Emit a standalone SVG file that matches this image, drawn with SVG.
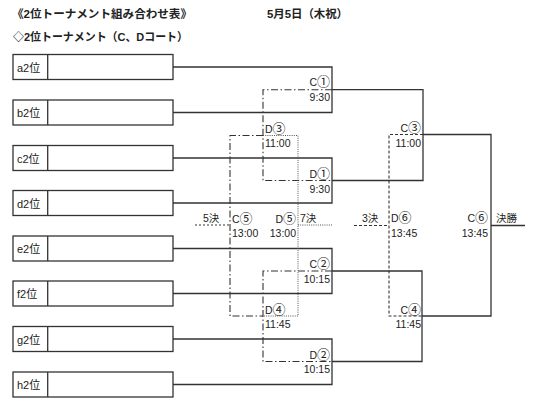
<svg xmlns="http://www.w3.org/2000/svg" width="549" height="409" viewBox="0 0 549 409">
<style>
text{font-family:"Liberation Sans","Noto Sans CJK JP",sans-serif;fill:#222;font-size:10.5px}
.c{font-family:"Noto Sans CJK JP",sans-serif;font-size:13px}
.t{font-weight:bold;font-size:11.5px}
.n{font-size:11px}
.r{text-anchor:end}
.box{fill:#fff;stroke:#333;stroke-width:1.3}
.s{fill:none;stroke:#333;stroke-width:1.3}
.dd{fill:none;stroke:#333;stroke-width:1.1;stroke-dasharray:7 2.5 1.5 2.5}
.dt{fill:none;stroke:#555;stroke-width:1;stroke-dasharray:1 1.2}
.ds{fill:none;stroke:#333;stroke-width:1.1;stroke-dasharray:3 2}
</style>
<rect width="549" height="409" fill="#fff"/>
<text class="t" x="12" y="18" textLength="180" lengthAdjust="spacingAndGlyphs">《2位トーナメント組み合わせ表》</text>
<text class="t" x="267" y="18" textLength="81" lengthAdjust="spacingAndGlyphs">5月5日（木祝）</text>
<text class="t" x="13" y="41" textLength="175" lengthAdjust="spacingAndGlyphs">◇2位トーナメント（C、Dコート）</text>

<g id="teams">
<g id="a"><rect class="box" x="13" y="54.5" width="160" height="25"/><line class="s" x1="47.7" y1="54.5" x2="47.7" y2="79.5"/><text class="n" x="17" y="71.5">a2位</text></g>
<g id="b"><rect class="box" x="13" y="100" width="160" height="25"/><line class="s" x1="47.7" y1="100" x2="47.7" y2="125"/><text class="n" x="17" y="117">b2位</text></g>
<g id="c"><rect class="box" x="13" y="145.5" width="160" height="25"/><line class="s" x1="47.7" y1="145.5" x2="47.7" y2="170.5"/><text class="n" x="17" y="162.5">c2位</text></g>
<g id="d"><rect class="box" x="13" y="190.5" width="160" height="25"/><line class="s" x1="47.7" y1="190.5" x2="47.7" y2="215.5"/><text class="n" x="17" y="207.5">d2位</text></g>
<g id="e"><rect class="box" x="13" y="236" width="160" height="25"/><line class="s" x1="47.7" y1="236" x2="47.7" y2="261"/><text class="n" x="17" y="253">e2位</text></g>
<g id="f"><rect class="box" x="13" y="281" width="160" height="25"/><line class="s" x1="47.7" y1="281" x2="47.7" y2="306"/><text class="n" x="17" y="298">f2位</text></g>
<g id="g"><rect class="box" x="13" y="326.5" width="160" height="25"/><line class="s" x1="47.7" y1="326.5" x2="47.7" y2="351.5"/><text class="n" x="17" y="343.5">g2位</text></g>
<g id="h"><rect class="box" x="13" y="372" width="160" height="25"/><line class="s" x1="47.7" y1="372" x2="47.7" y2="397"/><text class="n" x="17" y="389">h2位</text></g>
</g>

<g id="connectors">
<path class="s" d="M173 67H332V112.5H173M332 89.7H423V180.5H332M173 158H332V203H173"/>
<path class="s" d="M173 248.5H332V293.5H173M332 271H422V361.5H332M173 339H332V384.5H173"/>
<path class="s" d="M423 134.5H491V316H422M491 225.5H525"/>
<path class="dd" d="M332 89.7H263V180.5H332"/>
<path class="dd" d="M332 271H263V361.5H332"/>
<path class="dd" d="M263 135.5H230V316H263"/>
<path class="ds" d="M195 225H230" style="stroke-dasharray:2 2"/>
<path class="dt" d="M263 135.5H298V316H263"/>
<path class="dt" d="M298 225H332"/>
<path class="ds" d="M423 134.5H389V316H422"/>
<path class="ds" d="M354 225.5H389"/>
</g>

<g id="labels">
<g id="C1"><text class="r" x="330" y="86">C<tspan class="c">①</tspan></text><text class="r" x="330" y="101">9:30</text></g>
<g id="D1"><text class="r" x="330" y="177.5">D<tspan class="c">①</tspan></text><text class="r" x="330" y="192.5">9:30</text></g>
<g id="D3"><text x="265" y="133">D<tspan class="c">③</tspan></text><text x="265" y="147">11:00</text></g>
<g id="C3"><text class="r" x="421" y="132">C<tspan class="c">③</tspan></text><text class="r" x="421" y="146.5">11:00</text></g>
<g id="C5"><text x="232" y="223">C<tspan class="c">⑤</tspan></text><text x="232" y="237">13:00</text><text x="203" y="222">5決</text></g>
<g id="D5"><text class="r" x="296" y="223">D<tspan class="c">⑤</tspan></text><text class="r" x="296" y="237">13:00</text><text x="300" y="222">7決</text></g>
<g id="D6"><text x="391" y="222">D<tspan class="c">⑥</tspan></text><text x="391" y="236.5">13:45</text><text x="362" y="222">3決</text></g>
<g id="C6"><text class="r" x="488" y="222">C<tspan class="c">⑥</tspan></text><text class="r" x="488" y="236.5">13:45</text><text x="496" y="222">決勝</text></g>
<g id="C2"><text class="r" x="330" y="268">C<tspan class="c">②</tspan></text><text class="r" x="330" y="282.5">10:15</text></g>
<g id="D4"><text x="265" y="314">D<tspan class="c">④</tspan></text><text x="265" y="328">11:45</text></g>
<g id="C4"><text class="r" x="421" y="314">C<tspan class="c">④</tspan></text><text class="r" x="421" y="328">11:45</text></g>
<g id="D2"><text class="r" x="330" y="359">D<tspan class="c">②</tspan></text><text class="r" x="330" y="373">10:15</text></g>
</g>
</svg>
